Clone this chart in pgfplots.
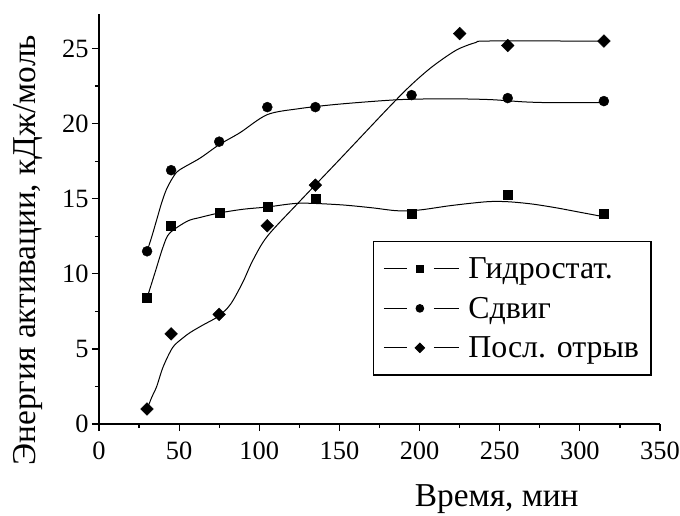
\documentclass[border=0pt]{standalone}
\usepackage{fontspec}
\setmainfont{Liberation Serif}
\usepackage{pgfplots}
\pgfplotsset{compat=1.18}
\begin{document}
\begin{tikzpicture}
\begin{axis}[name=ax,
 scale only axis, width=561bp, height=410bp,
 xmin=0, xmax=350, ymin=0, ymax=27.3,
 axis lines*=left,
 axis line style={line width=1.2bp, black},
 tick align=outside,
 major tick length=7bp, minor tick length=4bp,
 every tick/.style={line width=1.2bp, black},
 xtick={0,50,...,350}, ytick={0,5,...,25},
 minor tick num=1,
 /pgf/number format/assume math mode=true,
 ticklabel style={font=\fontsize{26.5}{30}\selectfont},
 xticklabel style={yshift=-7bp},
 xlabel={Время, мин},
 ylabel={Энергия активации, кДж/моль},
 label style={font=\fontsize{33.5}{36}\selectfont},
 xlabel style={at={(axis description cs:0.709,-0.183)}, anchor=center},
 ylabel style={at={(axis description cs:-0.127,0.424)}, anchor=center},
 clip=false,
 legend style={at={(axis description cs:0.488,0.446)}, anchor=north west,
   draw=black, line width=1.2bp, font=\fontsize{32}{36}\selectfont,
   inner xsep=10bp, inner ysep=14bp, row sep=13bp},
 legend cell align=left,
 legend image code/.code={
   \draw[#1,mark=none] (0bp,0bp)--(23bp,0bp);
   \draw[#1,mark=none] (50bp,0bp)--(75bp,0bp);
   \draw[#1] plot coordinates {(36bp,0bp)};
   \path (82bp,0bp);
 },
]
% fitted curves
\addplot[black, line width=1bp, smooth, forget plot] coordinates {
 (30,8.4) (35,10.1) (40,11.8) (44,12.7) (55,13.5) (63,13.75) (75,14.05) (90,14.3) (105,14.45) (125,14.7) (150,14.6) (170,14.4) (186,14.2) (200,14.25) (220,14.55) (242,14.8) (255,14.8) (270,14.65) (285,14.4) (300,14.1) (315,13.8)};
\addplot[black, line width=1bp, smooth, forget plot] coordinates {
 (30,11.5) (33,12.5) (36,13.6) (39,14.7) (42,15.6) (46,16.4) (50,16.9) (63,17.7) (75,18.6) (88,19.4) (105,20.6) (125,21.0) (150,21.3) (188,21.6) (220,21.65) (244,21.6) (265,21.45) (281,21.4) (315,21.4)};
\addplot[black, line width=1bp, smooth, forget plot] coordinates {
 (30,1.0) (33,1.8) (36,2.5) (40,3.8) (46,5.1) (52,5.7) (57,6.1) (65,6.6) (73.5,7.1) (80,7.7) (84,8.3) (90,9.5) (96,10.9) (105,12.5) (125,14.8) (150,17.6) (181,21.1) (195,22.6) (208,23.8) (223,24.9) (235,25.4) (242,25.5) (300,25.5) (315,25.5)};
% data points
\addplot[only marks, black, mark=square*, mark size=4.5bp, forget plot] coordinates {
 (30,8.4) (45,13.2) (75,14.1) (105,14.5) (135,15.0) (195,14.0) (255,15.3) (315,14.0)};
\addplot[only marks, black, mark=*, mark size=5bp, forget plot] coordinates {
 (30,11.5) (45,16.9) (75,18.8) (105,21.1) (135,21.1) (195,21.9) (255,21.7) (315,21.5)};
\addplot[only marks, black, mark=square*, mark size=4.5bp, mark options={rotate=45}, forget plot] coordinates {
 (30,1.0) (45,6.0) (75,7.3) (105,13.2) (135,15.9) (225,26.0) (255,25.2) (315,25.5)};
% legend
\addlegendimage{black, line width=1bp, mark=square*, mark size=3.5bp}
\addlegendentry{Гидростат.}
\addlegendimage{black, line width=1bp, mark=*, mark size=3.8bp}
\addlegendentry{Сдвиг}
\addlegendimage{black, line width=1bp, mark=square*, mark size=3.3bp, mark options={rotate=45}}
\addlegendentry{Посл. отрыв}
\end{axis}
\pgfresetboundingbox
\path[use as bounding box] ([shift={(-99bp,-92bp)}]ax.south west) rectangle ([shift={(581bp,424bp)}]ax.south west);
\end{tikzpicture}
\end{document}
